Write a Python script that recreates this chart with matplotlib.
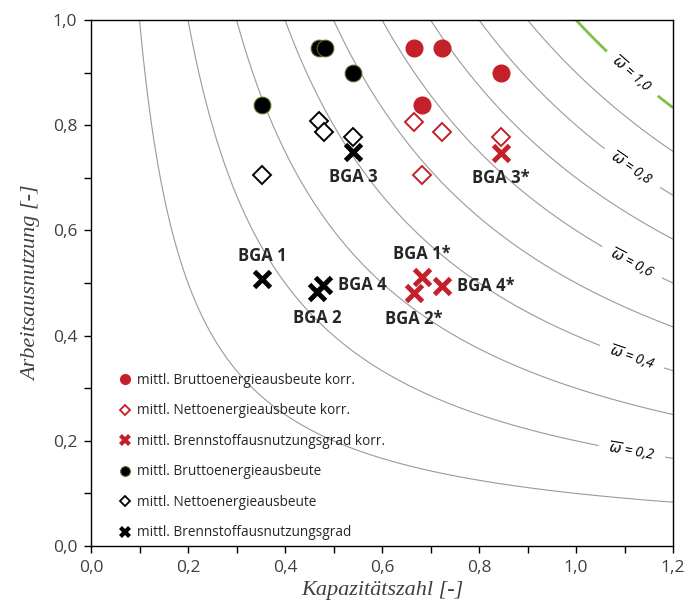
import numpy as np
import matplotlib
matplotlib.use("Agg")
import matplotlib.pyplot as plt
from matplotlib.lines import Line2D

plt.rcParams['font.family'] = ['Open Sans', 'DejaVu Sans']
plt.rcParams['mathtext.fontset'] = 'dejavusans'

# ---- data ----
# uncorrected (black)
brutto_x = [0.353, 0.470, 0.482, 0.540]
brutto_y = [0.838, 0.946, 0.946, 0.899]
netto_x = [0.353, 0.470, 0.480, 0.540]
netto_y = [0.705, 0.808, 0.787, 0.778]
bnug_x = [0.353, 0.466, 0.540, 0.478]
bnug_y = [0.507, 0.483, 0.749, 0.496]
bga_names = ["BGA 1", "BGA 2", "BGA 3", "BGA 4"]

# corrected (red)
brutto_k_x = [0.682, 0.666, 0.845, 0.724]
brutto_k_y = [0.838, 0.946, 0.899, 0.946]
netto_k_x = [0.682, 0.666, 0.845, 0.724]
netto_k_y = [0.705, 0.806, 0.778, 0.787]
bnug_k_x = [0.682, 0.666, 0.845, 0.724]
bnug_k_y = [0.511, 0.481, 0.747, 0.494]
bga_k_names = ["BGA 1*", "BGA 2*", "BGA 3*", "BGA 4*"]

omega_levels = [0.1, 0.2, 0.3, 0.4, 0.5, 0.6, 0.7, 0.8, 0.9, 1.0]
omega_labeled = [0.2, 0.4, 0.6, 0.8, 1.0]
label_x = 1.115

x_ticks = [0.0, 0.2, 0.4, 0.6, 0.8, 1.0, 1.2]
y_ticks = [0.0, 0.2, 0.4, 0.6, 0.8, 1.0]

RED = '#C4202A'
TXT = '#404040'
GRAY = '#9a9a9a'
GREEN = '#7CC143'

fig = plt.figure(figsize=(6.86, 6.09), dpi=100)
ax = fig.add_axes([0.1327, 0.1034, 0.8484, 0.8638])
ax.set_xlim(0, 1.2)
ax.set_ylim(0, 1.0)

# iso-omega curves
gx = np.linspace(0.001, 1.2, 800)
gy = np.linspace(0.001, 1.0, 800)
GX, GY = np.meshgrid(gx, gy)
Z = GX * GY

def fmt(v):
    return r'$\overline{\omega}$' + ' = ' + ('%.1f' % v).replace('.', ',')

for w in omega_levels:
    col = GREEN if w >= 1.0 else GRAY
    lw = 2.0 if w >= 1.0 else 0.8
    c = ax.contour(GX, GY, Z, levels=[w], colors=col, linewidths=lw, zorder=1)
    if w in omega_labeled:
        labs = ax.clabel(c, inline=True, inline_spacing=10, fmt={w: fmt(w)},
                         manual=[(label_x, w / label_x)], colors='black', fontsize=10)
        for t in labs:
            t.set_fontstyle('italic')

# markers
ax.plot(brutto_x, brutto_y, 'o', ms=12, mfc='black', mec='#4E6B2A', mew=0.8, ls='none', zorder=3)
ax.plot(netto_x, netto_y, 'D', ms=9, mfc='white', mec='black', mew=1.4, ls='none', zorder=3)
ax.plot(bnug_x, bnug_y, 'x', ms=11, mec='black', mew=3.5, ls='none', zorder=4)
ax.plot(brutto_k_x, brutto_k_y, 'o', ms=12, mfc=RED, mec=RED, ls='none', zorder=3)
ax.plot(netto_k_x, netto_k_y, 'D', ms=9, mfc='white', mec=RED, mew=1.4, ls='none', zorder=3)
ax.plot(bnug_k_x, bnug_k_y, 'x', ms=11, mec=RED, mew=3.5, ls='none', zorder=4)

# labels for BGA points
bfont = dict(fontsize=12, fontweight='bold', color='#262626')
offsets = {0: (0, 17, 'center'), 1: (0, -19, 'center'), 2: (0, -18, 'center'), 3: (11, 0, 'left')}
for i, name in enumerate(bga_names):
    dx, dy, ha = offsets[i]
    ax.annotate(name, (bnug_x[i], bnug_y[i]), xytext=(dx, dy), textcoords='offset points',
                ha=ha, va='center', **bfont)
for i, name in enumerate(bga_k_names):
    dx, dy, ha = offsets[i]
    ax.annotate(name, (bnug_k_x[i], bnug_k_y[i]), xytext=(dx, dy), textcoords='offset points',
                ha=ha, va='center', **bfont)

# legend
handles = [
    Line2D([], [], marker='o', ls='none', ms=7, mfc=RED, mec=RED),
    Line2D([], [], marker='D', ls='none', ms=5, mfc='white', mec=RED, mew=1.3),
    Line2D([], [], marker='X', ls='none', ms=8, mfc=RED, mec=RED, mew=0),
    Line2D([], [], marker='o', ls='none', ms=7, mfc='black', mec='#4E6B2A', mew=0.8),
    Line2D([], [], marker='D', ls='none', ms=5, mfc='white', mec='black', mew=1.3),
    Line2D([], [], marker='X', ls='none', ms=8, mfc='black', mec='black', mew=0),
]
labels = ["mittl. Bruttoenergieausbeute korr.", "mittl. Nettoenergieausbeute korr.",
          "mittl. Brennstoffausnutzungsgrad korr.", "mittl. Bruttoenergieausbeute",
          "mittl. Nettoenergieausbeute", "mittl. Brennstoffausnutzungsgrad"]
leg = ax.legend(handles, labels, loc='lower left', bbox_to_anchor=(0.03, -0.01), frameon=False,
                fontsize=9.8, labelspacing=1.14, handlelength=0.8, handletextpad=0.5, borderpad=0.3)
for t in leg.get_texts():
    t.set_color('#262626')

# axes styling
ax.set_xticks(x_ticks)
ax.set_yticks(y_ticks)
ax.set_xticks(np.arange(1, 12, 2) / 10, minor=True)
ax.set_yticks(np.arange(1, 10, 2) / 10, minor=True)
ax.set_xticklabels([('%.1f' % v).replace('.', ',') for v in x_ticks])
ax.set_yticklabels([('%.1f' % v).replace('.', ',') for v in y_ticks])
ax.tick_params(axis='both', which='both', direction='out', length=5, width=1, colors='black',
               labelsize=12.5, labelcolor=TXT, pad=5)
for s in ax.spines.values():
    s.set_linewidth(1.0)
    s.set_color('black')

ax.set_xlabel('Kapazitätszahl [-]', fontsize=16, family='Liberation Serif', style='italic', color=TXT, labelpad=4)
ax.set_ylabel('Arbeitsausnutzung [-]', fontsize=16, family='Liberation Serif', style='italic', color=TXT, labelpad=8)

fig.savefig('out.png', dpi=100)
